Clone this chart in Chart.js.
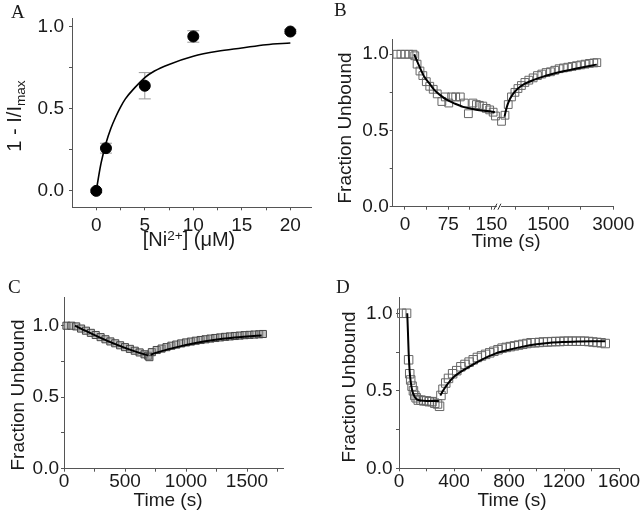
<!DOCTYPE html>
<html><head><meta charset="utf-8">
<script src="https://cdn.jsdelivr.net/npm/chart.js@4.4.0/dist/chart.umd.min.js"></script>
<style>
html,body{margin:0;padding:0;background:#fff;}
body{width:640px;height:517px;position:relative;overflow:hidden;font-family:"Liberation Sans",Arial,sans-serif;color:#1a1a1a;}
canvas{position:absolute;}
.lbl{position:absolute;white-space:nowrap;line-height:1;transform:translate(-50%,-50%);font-size:19px;}
.rot{transform:translate(-50%,-50%) rotate(-90deg);}
.pan{position:absolute;font-family:"Liberation Serif","Times New Roman",serif;font-size:19px;line-height:1;}
.sm{font-size:0.68em;}
</style></head><body>
<canvas id="cA"></canvas><canvas id="cB"></canvas><canvas id="cC"></canvas><canvas id="cD"></canvas>
<div class="pan" style="left:11px;top:2px;">A</div>
<div class="pan" style="left:334px;top:0px;">B</div>
<div class="pan" style="left:8px;top:277px;">C</div>
<div class="pan" style="left:336px;top:277px;">D</div>
<div class="lbl rot" style="left:14px;top:116px;font-size:20px;">1 - I/I<span class="sm" style="position:relative;top:0.3em;">max</span></div>
<div class="lbl" style="left:189px;top:239px;font-size:20px;">[Ni<span class="sm" style="position:relative;top:-0.45em;">2+</span>] (μM)</div>
<div class="lbl rot" style="left:344px;top:128px;">Fraction Unbound</div>
<div class="lbl" style="left:506px;top:240px;">Time (s)</div>
<div class="lbl rot" style="left:17px;top:395px;">Fraction Unbound</div>
<div class="lbl" style="left:168px;top:499px;">Time (s)</div>
<div class="lbl rot" style="left:348px;top:387px;">Fraction Unbound</div>
<div class="lbl" style="left:512px;top:499px;">Time (s)</div>
<script>
// ---------- Panel A data ----------
const A_conc = [0, 1, 5, 10, 20];
const A_value = [0, 0.26, 0.64, 0.94, 0.97];
const A_error = [0.01, 0.03, 0.08, 0.035, 0.012];
const A_fitConc = [0, 0.25, 0.5, 1, 1.5, 2, 2.5, 3, 4, 5, 6, 7.5, 10, 12.5, 15, 17.5, 20];
const A_fitValue = [0, 0.09, 0.17, 0.29, 0.38, 0.45, 0.51, 0.56, 0.63, 0.69, 0.73, 0.77, 0.82, 0.85, 0.87, 0.89, 0.90];
const A_xTicks = [0, 2.5, 5, 7.5, 10, 12.5, 15, 17.5, 20];
const A_xLabels = ['0', '', '5', '', '10', '', '15', '', '20'];

// ---------- Panel B data (time axis is broken) ----------
const B_time1 = [-14, -7, 0, 7, 14, 17, 21, 26, 31, 37, 43, 49, 56, 64, 70, 76, 81, 88, 96, 103, 110, 118, 124, 129, 135, 141, 147, 153, 157];
const B_value1 = [1.0, 1.0, 1.0, 1.0, 1.0, 0.99, 0.935, 0.89, 0.86, 0.82, 0.79, 0.77, 0.74, 0.69, 0.72, 0.68, 0.72, 0.72, 0.72, 0.68, 0.61, 0.68, 0.67, 0.665, 0.66, 0.645, 0.635, 0.62, 0.595];
const B_time2 = [420, 500, 575, 650, 730, 800, 880, 960, 1050, 1150, 1250, 1350, 1450, 1550, 1650, 1750, 1850, 1950, 2050, 2150, 2250, 2350, 2450, 2550, 2620];
const B_value2 = [0.56, 0.60, 0.67, 0.72, 0.75, 0.775, 0.795, 0.815, 0.83, 0.845, 0.86, 0.87, 0.88, 0.885, 0.895, 0.905, 0.91, 0.915, 0.92, 0.925, 0.93, 0.935, 0.94, 0.943, 0.945];
const B_fitTime1 = [16, 25, 33, 42, 50, 60, 73, 87, 101, 115, 129, 143, 156];
const B_fitValue1 = [1.0, 0.92, 0.856, 0.81, 0.77, 0.735, 0.70, 0.675, 0.655, 0.643, 0.633, 0.627, 0.62];
const B_fitTime2 = [490, 520, 560, 620, 700, 800, 950, 1150, 1400, 1700, 2000, 2300, 2620];
const B_fitValue2 = [0.59, 0.63, 0.67, 0.71, 0.745, 0.775, 0.805, 0.83, 0.855, 0.878, 0.897, 0.915, 0.932];
const B_xTicks = [0, 37.5, 75, 112.5, 150, 750, 1500, 2250, 3000];
const B_xLabels = ['0', '', '75', '', '150', '', '1500', '', '3000'];

// ---------- Panel C data ----------
const C_time = [20, 60, 100, 140, 180, 220, 260, 300, 340, 380, 420, 460, 500, 540, 580, 620, 660, 690, 700, 720, 760, 800, 840, 880, 920, 960, 1000, 1040, 1080, 1120, 1160, 1200, 1240, 1280, 1320, 1360, 1400, 1440, 1480, 1520, 1560, 1600, 1630];
const C_value = [1.0, 1.0, 0.995, 0.98, 0.965, 0.95, 0.935, 0.92, 0.905, 0.89, 0.877, 0.863, 0.85, 0.838, 0.825, 0.813, 0.80, 0.79, 0.78, 0.815, 0.83, 0.84, 0.85, 0.86, 0.868, 0.876, 0.883, 0.889, 0.895, 0.90, 0.905, 0.91, 0.914, 0.918, 0.922, 0.925, 0.928, 0.931, 0.934, 0.936, 0.938, 0.94, 0.942];
const C_fitTime1 = [90, 150, 200, 300, 400, 500, 600, 690];
const C_fitValue1 = [1.0, 0.975, 0.955, 0.915, 0.878, 0.845, 0.815, 0.792];
const C_fitTime2 = [710, 750, 800, 900, 1000, 1100, 1200, 1300, 1400, 1500, 1620];
const C_fitValue2 = [0.797, 0.81, 0.822, 0.845, 0.865, 0.882, 0.896, 0.908, 0.917, 0.924, 0.932];
const C_xTicks = [0, 250, 500, 750, 1000, 1250, 1500, 1750];
const C_xLabels = ['0', '', '500', '', '1000', '', '1500', ''];

// ---------- Panel D data ----------
const D_time = [20, 55, 70, 78, 85, 95, 105, 115, 125, 140, 160, 180, 200, 220, 240, 260, 280, 295, 305, 320, 340, 360, 390, 420, 450, 480, 510, 540, 570, 600, 630, 660, 690, 720, 750, 780, 810, 840, 870, 900, 930, 960, 990, 1020, 1050, 1080, 1110, 1140, 1170, 1200, 1230, 1260, 1290, 1320, 1350, 1380, 1410, 1440, 1470, 1500];
const D_value = [1.0, 1.0, 0.70, 0.61, 0.57, 0.53, 0.50, 0.47, 0.455, 0.44, 0.44, 0.435, 0.435, 0.43, 0.43, 0.42, 0.415, 0.40, 0.47, 0.51, 0.55, 0.58, 0.61, 0.63, 0.655, 0.67, 0.685, 0.70, 0.715, 0.725, 0.735, 0.745, 0.755, 0.765, 0.775, 0.78, 0.785, 0.79, 0.795, 0.80, 0.805, 0.81, 0.81, 0.812, 0.815, 0.815, 0.817, 0.818, 0.818, 0.82, 0.82, 0.82, 0.82, 0.82, 0.82, 0.818, 0.815, 0.812, 0.81, 0.805];
const D_fitTime1 = [60, 65, 70, 75, 80, 90, 100, 115, 130, 160, 200, 290];
const D_fitValue1 = [1.0, 0.88, 0.75, 0.66, 0.60, 0.53, 0.49, 0.46, 0.445, 0.437, 0.435, 0.435];
const D_fitTime2 = [300, 320, 350, 400, 500, 600, 700, 800, 900, 1000, 1100, 1200, 1300, 1400, 1500];
const D_fitValue2 = [0.47, 0.50, 0.54, 0.59, 0.65, 0.70, 0.74, 0.765, 0.785, 0.80, 0.81, 0.815, 0.818, 0.82, 0.82];
const D_xTicks = [0, 200, 400, 600, 800, 1000, 1200, 1400, 1600];
const D_xLabels = ['0', '', '400', '', '800', '', '1200', '', '1600'];

const Y_ticks = [0, 0.25, 0.5, 0.75, 1.0];
const Y_labels = ['0.0', '', '0.5', '', '1.0'];

// broken axis of panel B: left segment 1:1, right segment compressed
function bPos(t) { return t <= 300 ? t : 166 + (t - 400) * 0.07518; }

const pts = (xs, ys, f) => xs.map((x, i) => ({ x: f ? f(x) : x, y: ys[i] }));
const AX = '#555';
const FONT = { family: '"Liberation Sans", Arial, sans-serif', size: 19 };

function axis(min, max, tickVals, tickLabels, pad) {
  return {
    type: 'linear', min, max,
    grid: { display: true, drawOnChartArea: false, drawTicks: true, tickLength: 3, color: AX, lineWidth: 1 },
    border: { display: true, color: AX, width: 1 },
    afterBuildTicks: s => { s.ticks = tickVals.map(v => ({ value: v })); },
    ticks: { color: '#1a1a1a', font: FONT, padding: pad, autoSkip: false, maxRotation: 0, minRotation: 0,
      callback: (v, i) => tickLabels[i] }
  };
}

const errorBars = {
  id: 'errorBars',
  beforeDatasetsDraw(chart, args, opts) {
    if (!opts.enabled) return;
    const { ctx, scales: { x, y } } = chart;
    ctx.save(); ctx.strokeStyle = '#999'; ctx.lineWidth = 1;
    A_conc.forEach((c, i) => {
      const px = x.getPixelForValue(c);
      const t = y.getPixelForValue(A_value[i] + A_error[i]);
      const b = y.getPixelForValue(A_value[i] - A_error[i]);
      ctx.beginPath();
      ctx.moveTo(px, t); ctx.lineTo(px, b);
      ctx.moveTo(px - 6, t); ctx.lineTo(px + 6, t);
      ctx.moveTo(px - 6, b); ctx.lineTo(px + 6, b);
      ctx.stroke();
    });
    ctx.restore();
  }
};
const axisBreak = {
  id: 'axisBreak',
  afterDraw(chart, args, opts) {
    if (!opts.enabled) return;
    const { ctx, chartArea, scales: { x } } = chart;
    const px = x.getPixelForValue(163);
    const y0 = chartArea.bottom;
    ctx.save();
    ctx.fillStyle = '#fff';
    ctx.fillRect(px - 2, y0 - 1.5, 4, 3);
    ctx.strokeStyle = '#333'; ctx.lineWidth = 1;
    ctx.beginPath();
    ctx.moveTo(px - 5, y0 + 3); ctx.lineTo(px - 2, y0 - 3);
    ctx.moveTo(px - 1, y0 + 3); ctx.lineTo(px + 2, y0 - 3);
    ctx.stroke();
    ctx.restore();
  }
};
Chart.register(errorBars, axisBreak);

function makePanel(id, area, xs, ys, datasets, plugs) {
  const LW = 50, PT = 16, PR = 28, XH = 36;
  const cl = Math.floor(area.left - LW), ct = Math.floor(area.top - PT);
  const cr = Math.ceil(area.right + PR), cb = Math.ceil(area.bottom + XH);
  const cv = document.getElementById(id);
  cv.width = cr - cl; cv.height = cb - ct;
  cv.style.left = cl + 'px'; cv.style.top = ct + 'px';
  const yW = area.left - cl, padTop = area.top - ct, padRight = cr - area.right, xH = cb - area.bottom;
  xs.afterFit = s => { s.height = xH; };
  ys.afterFit = s => { s.width = yW; };
  xs.position = 'bottom'; ys.position = 'left';
  new Chart(cv, {
    type: 'scatter',
    data: { datasets },
    options: {
      responsive: false, animation: false, events: [],
      layout: { padding: { left: 0, top: padTop, right: padRight, bottom: 0 } },
      plugins: { legend: { display: false }, tooltip: { enabled: false },
        errorBars: { enabled: !!plugs.err }, axisBreak: { enabled: !!plugs.brk } },
      scales: { x: xs, y: ys }
    }
  });
}

const fitLine = (data, w) => ({ data, showLine: true, pointRadius: 0, borderColor: '#000', borderWidth: w || 2,
  cubicInterpolationMode: 'monotone', fill: false, clip: false });
const squares = (data, r, edge, fillc) => ({ data, showLine: false, pointStyle: 'rect', pointRadius: r,
  borderColor: edge || '#666', backgroundColor: fillc || 'rgba(255,255,255,0)', pointBorderWidth: 1, clip: false });

// Panel A
makePanel('cA', { left: 72, top: 18, right: 311.7, bottom: 207.3 },
  axis(-2.5, 22.2, A_xTicks, A_xLabels, 4),
  axis(-0.1, 1.05, Y_ticks, Y_labels, 5),
  [fitLine(pts(A_fitConc, A_fitValue), 1.6),
   { data: pts(A_conc, A_value), showLine: false, pointStyle: 'circle', pointRadius: 5.5,
     backgroundColor: '#000', borderColor: '#000', clip: false }],
  { err: true });

// Panel B
makePanel('cB', { left: 392.7, top: 39, right: 613.3, bottom: 206.7 },
  axis(-21.3, 361.5, B_xTicks.map(bPos), B_xLabels, 4),
  axis(0, 1.1, Y_ticks, Y_labels, 1),
  [fitLine(pts(B_fitTime1, B_fitValue1, bPos)), fitLine(pts(B_fitTime2, B_fitValue2, bPos)),
   squares(pts(B_time1, B_value1, bPos), 5.5), squares(pts(B_time2, B_value2, bPos), 5.5)],
  { brk: true });

// Panel C
makePanel('cC', { left: 64, top: 297.1, right: 283.6, bottom: 468.7 },
  axis(0, 1800, C_xTicks, C_xLabels, -1),
  axis(0, 1.2, Y_ticks, Y_labels, 2),
  [fitLine(pts(C_fitTime1, C_fitValue1)), fitLine(pts(C_fitTime2, C_fitValue2)),
   squares(pts(C_time, C_value), 5, '#444', 'rgba(150,150,150,0.55)')],
  {});

// Panel D
makePanel('cD', { left: 399, top: 297.8, right: 619, bottom: 468.3 },
  axis(0, 1600, D_xTicks, D_xLabels, -1),
  axis(0, 1.1, Y_ticks, Y_labels, 3.5),
  [fitLine(pts(D_fitTime1, D_fitValue1)), fitLine(pts(D_fitTime2, D_fitValue2)),
   squares(pts(D_time, D_value), 6)],
  {});
</script>
</body></html>
